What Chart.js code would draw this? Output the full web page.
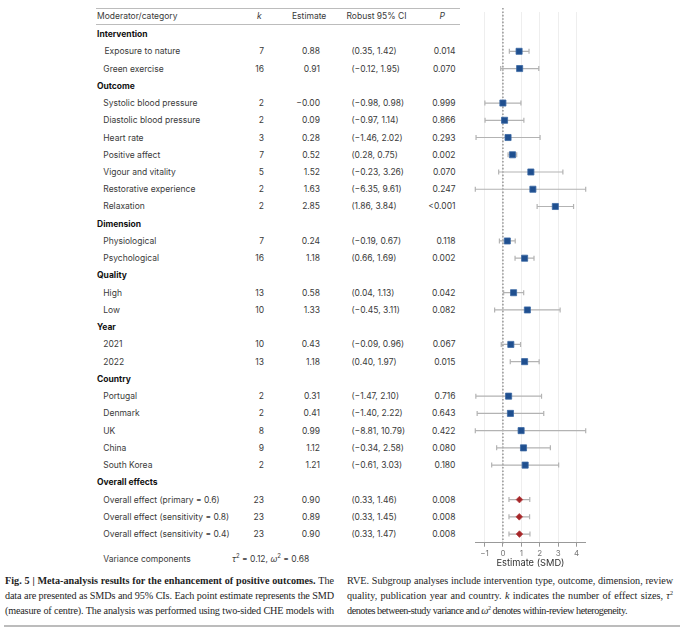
<!DOCTYPE html>
<html>
<head>
<meta charset="utf-8">
<script src="https://cdn.jsdelivr.net/npm/chart.js@4.4.1/dist/chart.umd.min.js"></script>
<style>
  html, body { margin: 0; padding: 0; background: #fff; }
  #fig { position: relative; width: 680px; height: 632px; overflow: hidden;
         font-family: Inter, "Noto Sans", sans-serif; color: #3a3a3a; }
  .t { position: absolute; font-size: 8.5px; line-height: 12px; height: 12px; white-space: nowrap; }
  .head { font-weight: 700; color: #111; }
  .rule { position: absolute; background: #bcbcbc; height: 1.5px; }
  #plot { position: absolute; left: 470px; top: 0; width: 130px; height: 573px; }
  .cap { position: absolute; font-family: "Liberation Serif", serif; font-size: 10.2px; line-height: 12px;
         color: #1e1e1e; white-space: nowrap; text-align: justify; text-align-last: justify; }
  .cap.last { text-align: left; text-align-last: left; }
  .cap span { display: inline-block; }
</style>
</head>
<body>
<div id="fig">
  <div id="plot"><canvas id="forest"></canvas></div>
</div>
<script>
  // --- data ---
  const categories = ['Exposure to nature', 'Green exercise',
    'Systolic blood pressure', 'Diastolic blood pressure', 'Heart rate', 'Positive affect',
    'Vigour and vitality', 'Restorative experience', 'Relaxation',
    'Physiological', 'Psychological', 'High', 'Low', '2021', '2022',
    'Portugal', 'Denmark', 'UK', 'China', 'South Korea',
    'Overall effect (primary = 0.6)', 'Overall effect (sensitivity = 0.8)', 'Overall effect (sensitivity = 0.4)'];
  const groupOf = ['Intervention', 'Intervention',
    'Outcome', 'Outcome', 'Outcome', 'Outcome', 'Outcome', 'Outcome', 'Outcome',
    'Dimension', 'Dimension', 'Quality', 'Quality', 'Year', 'Year',
    'Country', 'Country', 'Country', 'Country', 'Country',
    'Overall effects', 'Overall effects', 'Overall effects'];
  const kValues = [7, 16, 2, 2, 3, 7, 5, 2, 2, 7, 16, 13, 10, 10, 13, 2, 2, 8, 9, 2, 23, 23, 23];
  const estimates = [0.88, 0.91, -0, 0.09, 0.28, 0.52, 1.52, 1.63, 2.85, 0.24, 1.18, 0.58, 1.33,
    0.43, 1.18, 0.31, 0.41, 0.99, 1.12, 1.21, 0.90, 0.89, 0.90];
  const ciLower = [0.35, -0.12, -0.98, -0.97, -1.46, 0.28, -0.23, -6.35, 1.86, -0.19, 0.66, 0.04, -0.45,
    -0.09, 0.40, -1.47, -1.40, -8.81, -0.34, -0.61, 0.33, 0.33, 0.33];
  const ciUpper = [1.42, 1.95, 0.98, 1.14, 2.02, 0.75, 3.26, 9.61, 3.84, 0.67, 1.69, 1.13, 3.11,
    0.96, 1.97, 2.10, 2.22, 10.79, 2.58, 3.03, 1.46, 1.45, 1.47];
  const pValues = ['0.014', '0.070', '0.999', '0.866', '0.293', '0.002', '0.070', '0.247', '<0.001',
    '0.118', '0.002', '0.042', '0.082', '0.067', '0.015', '0.716', '0.643', '0.422', '0.080', '0.180',
    '0.008', '0.008', '0.008'];
  const xTicks = [-1, 0, 1, 2, 3, 4];
  const overallGroup = 'Overall effects';

  // rows: a heading line before each group, then its categories
  const rows = [];
  let lastGroup = null;
  categories.forEach((c, i) => {
    if (groupOf[i] !== lastGroup) { rows.push({ head: groupOf[i] }); lastGroup = groupOf[i]; }
    rows.push({ item: i });
  });
  const rowOf = [];
  rows.forEach((r, j) => { if (r.item !== undefined) rowOf[r.item] = j; });

  const fmt = v => (v < 0 || Object.is(v, -0) ? '−' : '') + Math.abs(v).toFixed(2);
  const pts = idx => idx.map(i => ({ x: estimates[i], y: rowOf[i] }));
  const allIdx = categories.map((c, i) => i);
  const subIdx = allIdx.filter(i => groupOf[i] !== overallGroup);
  const totIdx = allIdx.filter(i => groupOf[i] === overallGroup);

  const X_MIN = -1.5, X_MAX = 4.5;

  // dotted line of no effect
  const zeroLine = {
    id: 'zeroLine',
    beforeDatasetsDraw(chart) {
      const { ctx, chartArea, scales } = chart;
      const x = scales.x.getPixelForValue(0);
      ctx.save();
      ctx.strokeStyle = '#9c9c9c';
      ctx.lineWidth = 1.6;
      ctx.setLineDash([1.6, 1.8]);
      ctx.beginPath();
      ctx.moveTo(x, chartArea.top - 4);
      ctx.lineTo(x, chartArea.bottom + 2);
      ctx.stroke();
      ctx.restore();
    }
  };

  // robust 95% CI whiskers, clipped to the axis range
  const errorBars = {
    id: 'errorBars',
    beforeDatasetsDraw(chart) {
      const { ctx, scales } = chart;
      ctx.save();
      ctx.strokeStyle = '#b3b3b3';
      ctx.lineWidth = 1.2;
      allIdx.forEach(i => {
        const y = scales.y.getPixelForValue(rowOf[i]);
        const x1 = scales.x.getPixelForValue(Math.max(ciLower[i], X_MIN));
        const x2 = scales.x.getPixelForValue(Math.min(ciUpper[i], X_MAX));
        ctx.beginPath();
        ctx.moveTo(x1, y); ctx.lineTo(x2, y);
        ctx.moveTo(x1, y - 2.5); ctx.lineTo(x1, y + 2.5);
        ctx.moveTo(x2, y - 2.5); ctx.lineTo(x2, y + 2.5);
        ctx.stroke();
      });
      ctx.restore();
    }
  };

  const chart = new Chart(document.getElementById('forest'), {
    type: 'scatter',
    data: {
      datasets: [{
        label: 'Subgroups',
        data: pts(subIdx),
        pointStyle: 'rect',
        pointRadius: 4.3,
        backgroundColor: '#1f4f8f',
        borderColor: '#3b68a3',
        borderWidth: 0.8
      }, {
        label: 'Overall',
        data: pts(totIdx),
        pointStyle: 'rectRot',
        pointRadius: 3.3,
        backgroundColor: '#a52628',
        borderColor: '#b84446',
        borderWidth: 0.8
      }]
    },
    options: {
      responsive: true,
      maintainAspectRatio: false,
      animation: false,
      events: [],
      layout: { padding: { top: 12, left: 5.3, right: 14.3, bottom: 0 } },
      plugins: { legend: { display: false }, tooltip: { enabled: false } },
      scales: {
        x: {
          type: 'linear',
          min: X_MIN,
          max: X_MAX,
          afterBuildTicks: s => { s.ticks = xTicks.map(v => ({ value: v })); },
          afterFit: s => { s.height = 30.3; },
          ticks: {
            color: '#777',
            font: { family: 'Inter', size: 8 },
            padding: 2,
            callback: v => (v < 0 ? '−' + Math.abs(v) : String(v))
          },
          grid: { color: '#eeeeee', lineWidth: 1, tickColor: '#999', tickLength: 4 },
          border: { color: '#999', width: 1 },
          title: {
            display: true,
            text: 'Estimate (SMD)',
            color: '#333',
            font: { family: 'Inter', size: 9.3 },
            padding: { top: 2, bottom: 4 }
          }
        },
        y: {
          type: 'linear',
          reverse: true,
          min: -1.28,
          max: 29.5,
          display: false
        }
      }
    },
    plugins: [zeroLine, errorBars]
  });

  // --- table and caption as HTML text, rows aligned on the chart's y scale ---
  const fig = document.getElementById('fig');
  function put(html, cls, y, left, right) {
    const d = document.createElement('div');
    d.className = 't ' + (cls || '');
    d.innerHTML = html;
    d.style.top = (y - 6) + 'px';
    if (left !== null) d.style.left = left + 'px';
    if (right !== null) { d.style.right = (680 - right) + 'px'; d.style.textAlign = 'right'; }
    fig.appendChild(d);
    return d;
  }
  function rule(y, x1, x2, h) {
    const d = document.createElement('div');
    d.className = 'rule';
    Object.assign(d.style, { top: y + 'px', left: x1 + 'px', width: (x2 - x1) + 'px' });
    if (h) d.style.height = h + 'px';
    fig.appendChild(d);
  }

  const yScale = chart.scales.y;
  const rowY = j => yScale.getPixelForValue(j);

  rule(7.5, 96, 460);
  rule(23.5, 96, 460);
  put('Moderator/category', '', 16, 97, null);
  put('<i>k</i>', '', 16, 257, null);
  put('Estimate', '', 16, 292, null);
  put('Robust 95% CI', '', 16, 346.5, null);
  put('<i>P</i>', '', 16, 439.5, null);

  rows.forEach((r, j) => {
    const y = rowY(j);
    if (r.head) { put(r.head, 'head', y, 97, null); return; }
    const i = r.item;
    put(categories[i], '', y, i === 0 ? 104.5 : 103.3, null);
    put(String(kValues[i]), '', y, null, 264);
    put(fmt(estimates[i]), '', y, null, 320);
    put('(' + fmt(ciLower[i]) + ', ' + fmt(ciUpper[i]) + ')', '', y, 351.5, null);
    put(pValues[i], '', y, null, 455.5);
  });

  const sup = '<sup style="font-size:6px;vertical-align:4px;line-height:0">2</sup>';
  const varY = rowY(rows.length - 1) + 25;
  put('Variance components', '', varY, 103.3, null);
  put('<i>τ</i>' + sup + ' = 0.12, <i>ω</i>' + sup + ' = 0.68', '', varY, 232, null);

  // caption, two columns
  const capLeft = [
    '<b>Fig. 5 | Meta-analysis results for the enhancement of positive outcomes.</b> The',
    'data are presented as SMDs and 95% CIs. Each point estimate represents the SMD',
    '(measure of centre). The analysis was performed using two-sided CHE models with'
  ];
  const capRight = [
    'RVE. Subgroup analyses include intervention type, outcome, dimension, review',
    'quality, publication year and country. <i>k</i> indicates the number of effect sizes, <i>τ</i>' + sup,
    'denotes between-study variance and <i>ω</i>' + sup + ' denotes within-review heterogeneity.'
  ];
  const capY = [581, 596, 611];
  function capLine(html, y, x, w, last) {
    const d = document.createElement('div');
    d.className = 'cap' + (last ? ' last' : '');
    Object.assign(d.style, { top: (y - 6) + 'px', left: x + 'px', width: w + 'px' });
    // measure the natural width, then tighten letters so the line fits its column
    const probe = document.createElement('span');
    probe.innerHTML = html;
    d.appendChild(probe);
    fig.appendChild(d);
    const nat = probe.getBoundingClientRect().width;
    const chars = probe.textContent.length;
    let ls = (w - 2 - nat) / chars;
    ls = Math.max(-0.7, Math.min(0, ls));
    if (last) ls = -0.45;
    d.innerHTML = html;
    d.style.letterSpacing = ls + 'px';
  }
  capLeft.forEach((l, n) => capLine(l, capY[n], 5, 329, false));
  capRight.forEach((l, n) => capLine(l, capY[n], 347, 326, n === capRight.length - 1));
  rule(625, 4, 680, 1.5);
</script>
</body>
</html>
